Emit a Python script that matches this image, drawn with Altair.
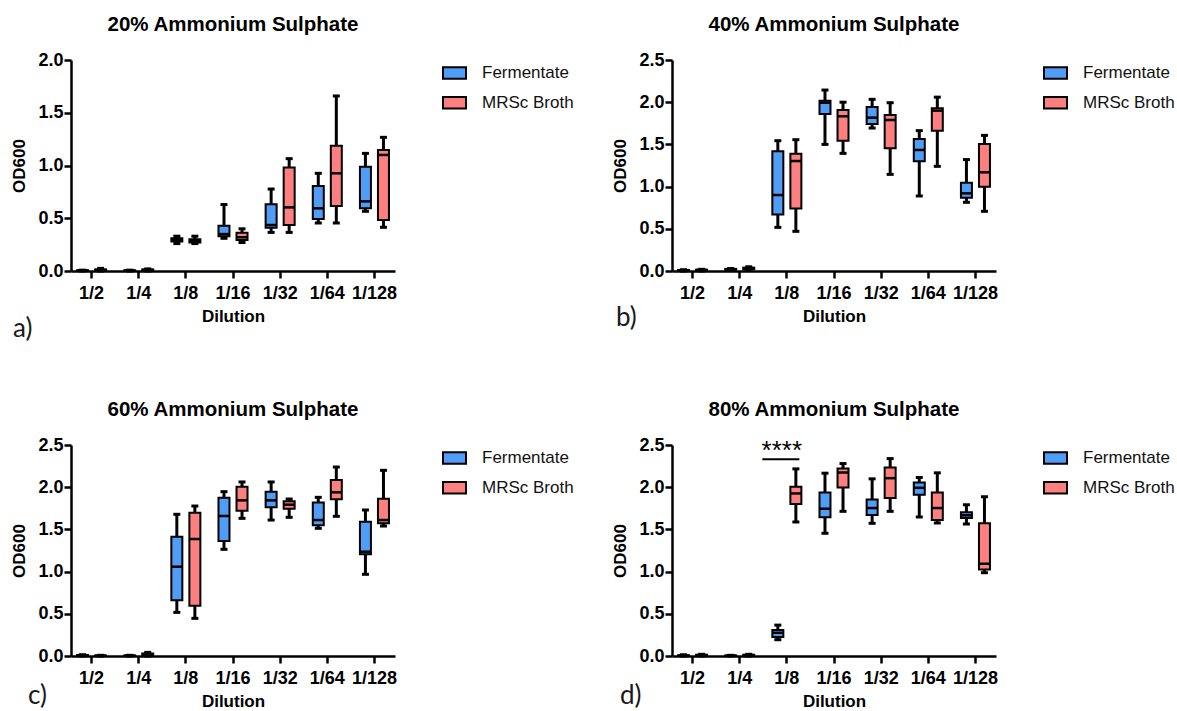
import altair as alt
import pandas as pd

dilutions = ["1/2", "1/4", "1/8", "1/16", "1/32", "1/64", "1/128"]
groups = ["Fermentate", "MRSc Broth"]
colors = ["#4f9df7", "#fd7f7f"]

# (min, q1, median, q3, max) for each dilution
a_fermentate = [(0.0, 0.002, 0.004, 0.006, 0.008), (0.0, 0.002, 0.004, 0.006, 0.008),
                (0.26, 0.28, 0.295, 0.31, 0.33), (0.31, 0.33, 0.35, 0.43, 0.63),
                (0.366, 0.41, 0.436, 0.632, 0.777), (0.455, 0.493, 0.594, 0.806, 0.926),
                (0.566, 0.594, 0.66, 0.989, 1.115)]
a_mrsc = [(0.0, 0.005, 0.01, 0.015, 0.025), (0.0, 0.005, 0.01, 0.015, 0.02),
          (0.26, 0.27, 0.285, 0.30, 0.33), (0.27, 0.294, 0.32, 0.363, 0.40),
          (0.366, 0.436, 0.603, 0.98, 1.065), (0.455, 0.616, 0.926, 1.188, 1.659),
          (0.414, 0.483, 1.10, 1.147, 1.267)]

b_fermentate = [(0.0, 0.005, 0.01, 0.012, 0.015), (0.01, 0.015, 0.02, 0.025, 0.03),
                (0.517, 0.67, 0.90, 1.42, 1.544), (1.50, 1.86, 1.994, 2.018, 2.144),
                (1.694, 1.742, 1.817, 1.943, 2.034), (0.889, 1.30, 1.434, 1.564, 1.663),
                (0.814, 0.869, 0.92, 1.047, 1.32)]
b_mrsc = [(0.0, 0.008, 0.012, 0.016, 0.02), (0.01, 0.02, 0.03, 0.04, 0.05),
          (0.47, 0.74, 1.303, 1.39, 1.556), (1.394, 1.544, 1.833, 1.907, 2.0),
          (1.145, 1.453, 1.789, 1.848, 1.994), (1.24, 1.663, 1.90, 1.927, 2.06),
          (0.707, 0.999, 1.169, 1.505, 1.607)]

c_fermentate = [(0.0, 0.005, 0.01, 0.012, 0.015), (0.0, 0.002, 0.004, 0.006, 0.008),
                (0.517, 0.66, 1.058, 1.414, 1.679), (1.264, 1.363, 1.659, 1.876, 1.947),
                (1.611, 1.761, 1.844, 1.947, 2.062), (1.513, 1.548, 1.611, 1.82, 1.88),
                (0.968, 1.205, 1.236, 1.592, 1.73)]
c_mrsc = [(0.0, 0.002, 0.004, 0.006, 0.008), (0.0, 0.01, 0.02, 0.03, 0.043),
          (0.446, 0.596, 1.386, 1.698, 1.777), (1.631, 1.722, 1.844, 2.006, 2.062),
          (1.643, 1.746, 1.793, 1.833, 1.86), (1.655, 1.856, 1.939, 2.085, 2.239),
          (1.54, 1.572, 1.611, 1.864, 2.20)]

d_fermentate = [(0.0, 0.002, 0.004, 0.008, 0.015), (0.0, 0.002, 0.004, 0.006, 0.008),
                (0.193, 0.224, 0.275, 0.307, 0.366), (1.454, 1.643, 1.745, 1.938, 2.166),
                (1.572, 1.671, 1.753, 1.855, 2.099), (1.647, 1.91, 1.993, 2.056, 2.115),
                (1.564, 1.635, 1.667, 1.702, 1.792)]
d_mrsc = [(0.0, 0.005, 0.01, 0.015, 0.02), (0.0, 0.005, 0.01, 0.015, 0.02),
          (1.588, 1.80, 1.926, 2.005, 2.217), (1.714, 1.997, 2.174, 2.221, 2.28),
          (1.714, 1.871, 2.107, 2.233, 2.339), (1.576, 1.612, 1.753, 1.938, 2.17),
          (0.987, 1.026, 1.093, 1.572, 1.887)]

signif_dilution = ["1/8"]
signif_line = [2.331]
signif_text_y = [2.33]
signif_text = ["****"]

FONT = "Liberation Sans"
W, H = 324, 211


def panel(title, ferm, mrsc, ymax, label, lab_x, lab_y, signif=False):
    rows = []
    for g, stats in ((groups[0], ferm), (groups[1], mrsc)):
        for d, (mn, q1, md, q3, mx) in zip(dilutions, stats):
            rows.append(dict(dilution=d, group=g, lo=mn, q1=q1, med=md, q3=q3, hi=mx))
    df = pd.DataFrame(rows)
    ticks = [v / 2 for v in range(int(ymax * 2) + 1)]
    yscale = alt.Scale(domain=[0, ymax], nice=False, zero=True)
    yaxis = alt.Axis(values=ticks, format=".1f", grid=False)

    def X():
        return alt.X("dilution:N", sort=dilutions,
                     scale=alt.Scale(domain=dilutions, paddingInner=0.128, paddingOuter=0),
                     axis=alt.Axis(labelAngle=0, grid=False), title="Dilution")

    def XO():
        return alt.XOffset("group:N", sort=groups,
                           scale=alt.Scale(domain=groups, paddingInner=0, paddingOuter=0.14))

    def Y(field):
        return alt.Y(field, scale=yscale, axis=yaxis, title="OD600")

    base = alt.Chart(df)
    whisk = base.mark_rule(color="black", strokeWidth=3).encode(
        x=X(), xOffset=XO(), y=Y("lo:Q"), y2="hi:Q")
    box = base.mark_bar(size=11, stroke="black", strokeWidth=2, opacity=1).encode(
        x=X(), xOffset=XO(), y=Y("q1:Q"), y2="q3:Q",
        color=alt.Color("group:N", sort=groups,
                        scale=alt.Scale(domain=groups, range=colors),
                        legend=alt.Legend(title=None, orient="none", legendX=371, legendY=0.5)))
    med = base.mark_tick(color="black", size=11, thickness=2.5, opacity=1).encode(
        x=X(), xOffset=XO(), y=Y("med:Q"))
    cap_lo = base.mark_tick(color="black", size=7, thickness=3, opacity=1).encode(
        x=X(), xOffset=XO(), y=Y("lo:Q"))
    cap_hi = base.mark_tick(color="black", size=7, thickness=3, opacity=1).encode(
        x=X(), xOffset=XO(), y=Y("hi:Q"))
    lab = alt.Chart(pd.DataFrame({"t": [label]})).mark_text(
        font="Lato", fontSize=26, align="left", baseline="alphabetic", color="#1a1a1a"
    ).encode(x=alt.value(lab_x), y=alt.value(lab_y), text="t:N")
    layers = [whisk, box, med, cap_lo, cap_hi, lab]
    if signif:
        sdf = pd.DataFrame({"dilution": signif_dilution, "y": signif_line,
                            "ty": signif_text_y, "t": signif_text})
        sline = alt.Chart(sdf).mark_tick(color="black", size=37, thickness=2,
                                         xOffset=-6, opacity=1).encode(x=X(), y=Y("y:Q"))
        stext = alt.Chart(sdf).mark_text(fontSize=26, dx=-5, color="black", baseline="alphabetic",
                                         font=FONT).encode(x=X(), y=Y("ty:Q"), text="t:N")
        layers += [sline, stext]
    return alt.layer(*layers).properties(
        width=W, height=H,
        title=alt.TitleParams(title, fontSize=20.5, font=FONT, fontWeight="bold",
                              anchor="middle", color="black", offset=16))


pa = panel("20% Ammonium Sulphate", a_fermentate, a_mrsc, 2.0, "a)", -58, 277)
pb = panel("40% Ammonium Sulphate", b_fermentate, b_mrsc, 2.5, "b)", -56, 266)
pc = panel("60% Ammonium Sulphate", c_fermentate, c_mrsc, 2.5, "c)", -43, 259)
pd_ = panel("80% Ammonium Sulphate", d_fermentate, d_mrsc, 2.5, "d)", -52, 259, signif=True)

chart = alt.concat(
    pa, pb, pc, pd_, columns=2, spacing={"row": 174, "column": 277}, bounds="flush"
).resolve_scale(
    color="independent"
).properties(
    padding={"left": 10, "top": 14, "right": 0, "bottom": 0}
).configure(font=FONT, background="white").configure_view(strokeWidth=0).configure_axis(
    domainColor="black", domainWidth=2.5, tickColor="black", tickWidth=2.5, tickSize=7,
    labelColor="black", labelFont=FONT, labelFontSize=18, labelFontWeight="bold",
    titleColor="black", titleFont=FONT, titleFontSize=17, titleFontWeight="bold",
).configure_axisX(labelPadding=6, titlePadding=6).configure_axisY(
    labelPadding=1, titlePadding=9
).configure_legend(
    symbolType="M-1,-0.5H1V0.5H-1Z", symbolSize=529, symbolStrokeColor="black",
    symbolStrokeWidth=2, symbolOpacity=1, labelFont=FONT, labelFontSize=17,
    labelColor="#111111", labelOffset=15, rowPadding=6.7, padding=0,
)

chart.save("out.html", embed_options={"renderer": "svg", "actions": False})
